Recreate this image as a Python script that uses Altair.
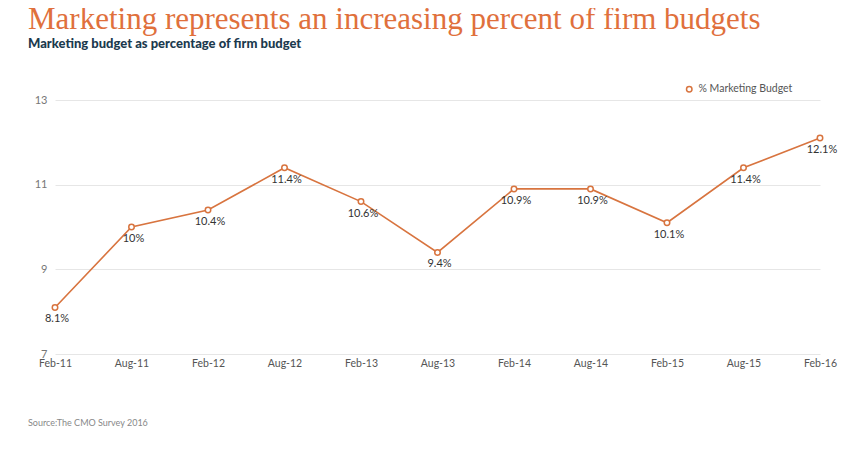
import altair as alt
import pandas as pd

periods = ["Feb-11", "Aug-11", "Feb-12", "Aug-12", "Feb-13", "Aug-13",
           "Feb-14", "Aug-14", "Feb-15", "Aug-15", "Feb-16"]
values = [8.1, 10.0, 10.4, 11.4, 10.6, 9.4, 10.9, 10.9, 10.1, 11.4, 12.1]
series_name = "% Marketing Budget"
y_ticks = [7, 9, 11, 13]
source_text = "Source:The CMO Survey 2016"

ORANGE = "#D8743F"
FONT = "Lato"

df = pd.DataFrame({"period": periods, "value": values, "series": series_name})

x = alt.X("period:N", sort=periods, scale=alt.Scale(type="point", padding=0),
          axis=alt.Axis(title=None, labelAngle=0, domain=False, ticks=False,
                        labelPadding=4, labelColor="#555555", labelFontSize=10.5,
                        labelFont=FONT, grid=False))
y = alt.Y("value:Q", scale=alt.Scale(domain=[7, 13], nice=False, zero=False),
          axis=alt.Axis(title=None, values=y_ticks, domain=False, ticks=False,
                        labelPadding=8, labelColor="#777777", labelFontSize=11,
                        labelFont=FONT, gridColor="#e6e6e6", grid=True))

base = alt.Chart(df)

line = base.mark_line(color=ORANGE, strokeWidth=1.6).encode(x=x, y=y)

points = base.mark_point(filled=False, fill="white", fillOpacity=1, size=30,
                         strokeWidth=1.5, shape="circle", opacity=1).encode(
    x=x, y=y,
    color=alt.Color("series:N", scale=alt.Scale(range=[ORANGE]),
                    legend=alt.Legend(title=None, orient="none", legendX=629, legendY=-16,
                                      labelFont=FONT, labelFontSize=10.5,
                                      labelColor="#555555", symbolSize=30,
                                      symbolStrokeWidth=1.5, symbolFillColor="white"))
)

labels = base.transform_calculate(
    lab="format(datum.value, '.1~f') + '%'"
).mark_text(dx=2, dy=12, fontSize=11, font=FONT, color="#333333",
            baseline="middle", align="center").encode(x=x, y=y, text="lab:N")

src = alt.Chart(pd.DataFrame({"t": [source_text]})).mark_text(
    align="left", baseline="middle", fontSize=9, font=FONT, color="#888888"
).encode(x=alt.value(-27), y=alt.value(323), text="t:N")

chart = alt.layer(line, points, labels, src).properties(
    width=765, height=254,
    autosize=alt.AutoSizeParams(type="none"),
    padding={"left": 47, "top": 92, "right": 22, "bottom": 80},
    title=alt.TitleParams(
        text="Marketing represents an increasing percent of firm budgets",
        subtitle="Marketing budget as percentage of firm budget",
        anchor="start", frame="group", dx=-27, offset=32,
        font="Liberation Serif", fontSize=31, fontWeight="normal", color="#E0703C",
        subtitleFont=FONT, subtitleFontSize=13, subtitleFontWeight=900,
        subtitleColor="#1B3A4E", subtitlePadding=2,
    ),
).configure_view(stroke=None)

chart.save("out.html", embed_options={"renderer": "svg", "actions": False})
